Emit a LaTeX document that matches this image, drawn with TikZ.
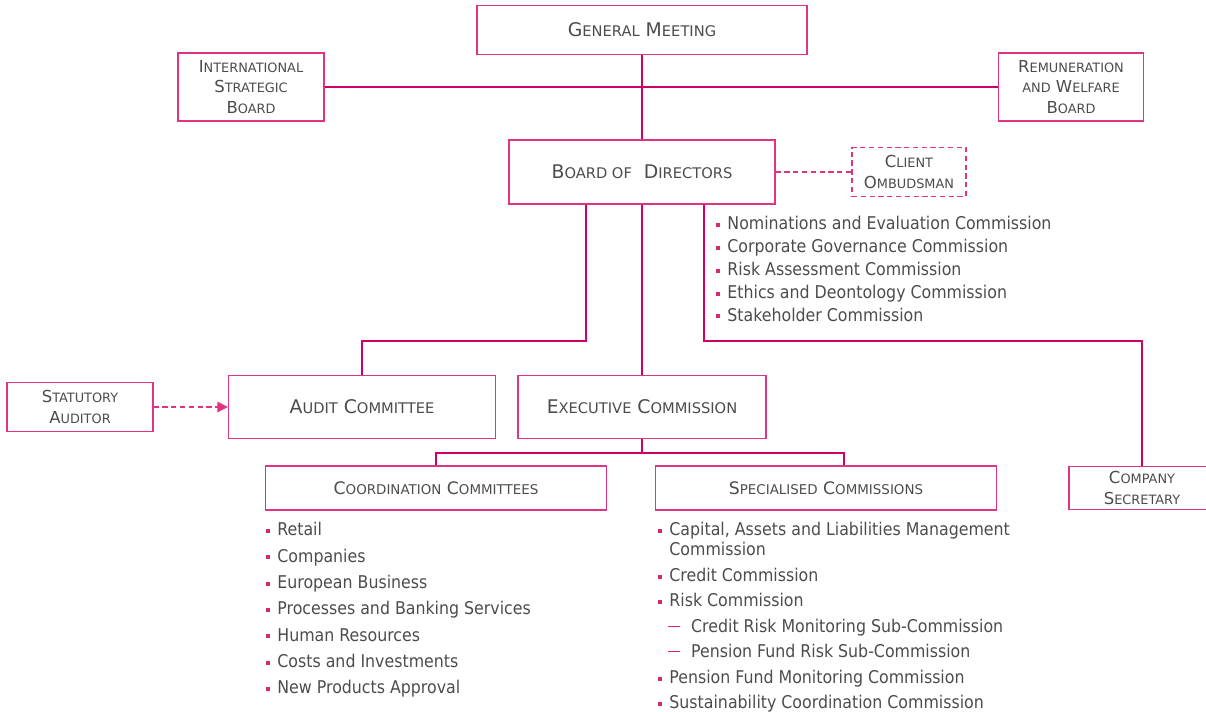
\documentclass[tikz,border=0pt]{standalone}
\usepackage{fontspec}
\setmainfont{DejaVu Sans Condensed}
\newfontfamily\boxfont{DejaVu Sans}
\usetikzlibrary{arrows.meta}
\makeatletter
\newcommand\smc[1]{{\fontsize{0.78\dimexpr\f@size pt\relax}{\f@baselineskip}\selectfont #1}}
\makeatother
\newcommand\bul{\textcolor{dotpink}{\rule[0.28ex]{2.3pt}{2.3pt}}\hspace{4pt}}
\newcommand\subdash{\hspace*{5.7pt}\textcolor{dotpink}{\rule[0.6ex]{6.8pt}{0.5pt}}\hspace{6.2pt}}

\begin{document}
\begin{tikzpicture}[
x=0.02cm, y=-0.02cm,
every node/.style={text=txtgray},
orgbox/.style={draw=boxpink, line width=0.7pt, fill=white, align=center, inner sep=1pt},
mainbox/.style={orgbox, font=\boxfont\fontsize{10.7}{13}\selectfont},
midbox/.style={orgbox, font=\boxfont\fontsize{9.8}{12}\selectfont},
sidebox/.style={orgbox, font=\boxfont\fontsize{9.4}{11.6}\selectfont},
wire/.style={draw=linepink, line width=1pt},
dotwire/.style={draw=boxpink, line width=0.8pt, dash pattern=on 3pt off 2pt},
itemlist/.style={anchor=north west, inner sep=0pt, align=left, font=\fontsize{10}{13}\selectfont}
]
\definecolor{boxpink}{RGB}{222,52,130}
\definecolor{linepink}{RGB}{204,0,102}
\definecolor{dotpink}{RGB}{214,40,110}
\definecolor{txtgray}{RGB}{76,76,76}
\useasboundingbox (0,0) rectangle (1206,711);

% governing bodies
\node[mainbox, minimum width=6.6cm, minimum height=0.98cm] (gm) at (642,30) {G\smc{ENERAL} M\smc{EETING}};
\node[sidebox, minimum width=2.92cm, minimum height=1.36cm] (isb) at (251,87) {I\smc{NTERNATIONAL}\\S\smc{TRATEGIC}\\B\smc{OARD}};
\node[sidebox, minimum width=2.9cm, minimum height=1.36cm] (rwb) at (1071,87) {R\smc{EMUNERATION}\\\smc{AND} W\smc{ELFARE}\\B\smc{OARD}};
\node[mainbox, minimum width=5.32cm, minimum height=1.28cm] (bod) at (642,172) {B\smc{OARD OF} \ D\smc{IRECTORS}};
\node[sidebox, dotwire, text=txtgray, minimum width=2.28cm, minimum height=0.98cm] (omb) at (909,172) {C\smc{LIENT}\\O\smc{MBUDSMAN}};

% committees
\node[mainbox, minimum width=5.34cm, minimum height=1.26cm] (audit) at (362,407) {A\smc{UDIT} C\smc{OMMITTEE}};
\node[mainbox, minimum width=4.96cm, minimum height=1.26cm] (exec) at (642,407) {E\smc{XECUTIVE} C\smc{OMMISSION}};
\node[sidebox, minimum width=2.92cm, minimum height=0.98cm] (stat) at (80,407) {S\smc{TATUTORY}\\A\smc{UDITOR}};
\node[midbox, minimum width=6.82cm, minimum height=0.88cm] (coord) at (436,488) {C\smc{OORDINATION} C\smc{OMMITTEES}};
\node[midbox, minimum width=6.82cm, minimum height=0.88cm] (spec) at (826,488) {S\smc{PECIALISED} C\smc{OMMISSIONS}};
\node[sidebox, minimum width=2.92cm, minimum height=0.86cm] (secr) at (1142,488) {C\smc{OMPANY}\\S\smc{ECRETARY}};

\coordinate (lj) at (586,341);
\coordinate (rj) at (704,341);
\coordinate (ej) at (844,453);

\draw[wire] (isb) -- (rwb);
\draw[wire] (gm) -- (bod);
\draw[dotwire] (bod) -- (omb);
\draw[dotwire, -{Triangle[length=6pt,width=6pt,fill=boxpink]}] (stat) -- (audit);
\draw[wire] (bod.south -| lj) -- (lj) -| (audit.north);
\draw[wire] (bod) -- (exec);
\draw[wire] (bod.south -| rj) -- (rj) -| (secr.north);
\draw[wire] (exec.south) -- (exec.south |- ej);
\draw[wire] (coord.north) |- (ej) -- (ej |- spec.north);

% lists
\node[itemlist] (brdlist) at (716,216) {\bul Nominations and Evaluation Commission\\ \bul Corporate Governance Commission\\ \bul Risk Assessment Commission\\ \bul Ethics and Deontology Commission\\ \bul Stakeholder Commission};
\node[itemlist, font=\fontsize{10}{15}\selectfont] (coordlist) at (266,522) {\bul Retail\\ \bul Companies\\ \bul European Business\\ \bul Processes and Banking Services\\ \bul Human Resources\\ \bul Costs and Investments\\ \bul New Products Approval};
\node[itemlist, font=\fontsize{10}{11.5}\selectfont] (speclist) at (658,522) {\bul Capital, Assets and Liabilities Management\\ \hspace*{6.3pt}Commission\\[3pt] \bul Credit Commission\\[3pt] \bul Risk Commission\\[3pt] \subdash Credit Risk Monitoring Sub-Commission\\[3pt] \subdash Pension Fund Risk Sub-Commission\\[3pt] \bul Pension Fund Monitoring Commission\\[3pt] \bul Sustainability Coordination Commission};
\end{tikzpicture}
\end{document}
